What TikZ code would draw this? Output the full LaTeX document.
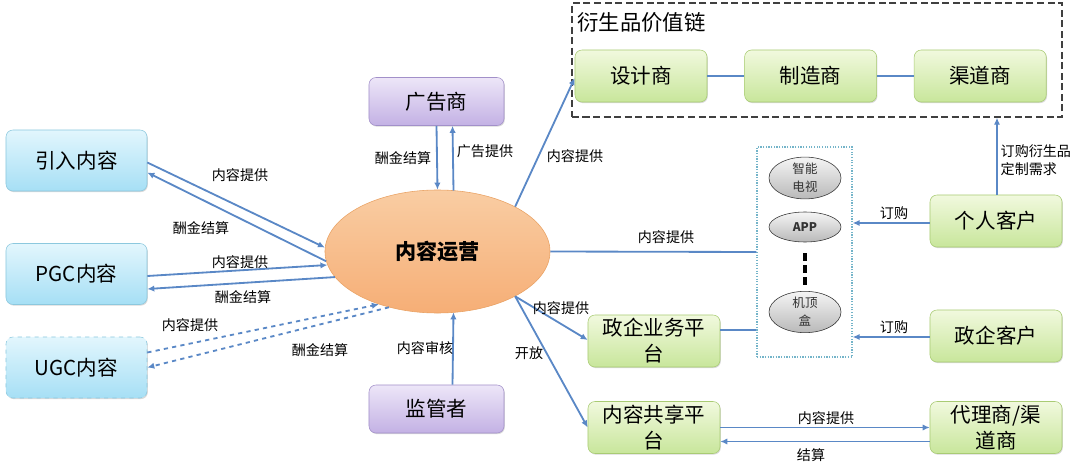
\documentclass[tikz,border=0pt]{standalone}
\usepackage{fontspec}
\setmainfont{Noto Sans CJK SC}
\usetikzlibrary{arrows.meta}
\usetikzlibrary{calc}
\usetikzlibrary{shadows}
\usetikzlibrary{shapes.geometric}
\usetikzlibrary{positioning}

\definecolor{linkblue}{HTML}{5A88C6}
\definecolor{bluetop}{HTML}{E2F6FD}
\definecolor{bluebot}{HTML}{A6DFF5}
\definecolor{blueline}{HTML}{8CC8DE}
\definecolor{greentop}{HTML}{F1F9DE}
\definecolor{greenbot}{HTML}{C8E69B}
\definecolor{greenline}{HTML}{A9CB74}
\definecolor{purpletop}{HTML}{EDE6F8}
\definecolor{purplebot}{HTML}{C3B1E4}
\definecolor{purpleline}{HTML}{A290C9}
\definecolor{orangetop}{HTML}{F9CDA3}
\definecolor{orangemid}{HTML}{FDE2C8}
\definecolor{orangebot}{HTML}{F6AE76}
\definecolor{orangeline}{HTML}{E9A264}
\definecolor{stackline}{HTML}{74B4C9}

\begin{document}
\begin{tikzpicture}[x=0.025cm, y=-0.025cm,
    box/.style={rectangle, rounded corners=5pt, align=center, inner sep=2pt,
        font=\fontsize{14.6}{18.5}\selectfont,
        drop shadow={shadow xshift=0.6pt, shadow yshift=-0.8pt, opacity=0.3}},
    bluebox/.style={box, draw=blueline, top color=bluetop, bottom color=bluebot,
        minimum width=3.525cm, minimum height=1.525cm},
    greenbox/.style={box, draw=greenline, top color=greentop, bottom color=greenbot,
        minimum width=3.3cm, minimum height=1.3cm},
    purplebox/.style={box, draw=purpleline, top color=purpletop, bottom color=purplebot,
        minimum width=3.375cm, minimum height=1.2cm},
    device/.style={ellipse, draw=black!80, top color=gray!8, bottom color=gray!55,
        minimum width=1.8cm, inner sep=0pt, align=center, text=black!80,
        font=\fontsize{8.9}{12.8}\selectfont},
    lbl/.style={inner sep=1pt, font=\fontsize{10}{12}\selectfont},
    flow/.style={draw=linkblue, line width=1.3pt, -{Latex[length=5pt,width=4.5pt]}},
    link/.style={draw=linkblue, line width=1.3pt},
    node distance=0.925cm]
    \useasboundingbox (0,0) rectangle (1080,472);

    % left side
    \node[bluebox] (intro) at (76.5,160.5) {引入内容};
    \node[bluebox] (pgc) at (76.5,274) {PGC内容};
    \node[bluebox, dashed] (ugc) at (76.5,367.5) {UGC内容};

    \node[ellipse, draw=orangeline, top color=orangetop, middle color=orangemid, bottom color=orangebot,
        minimum width=5.625cm, minimum height=3.075cm, inner sep=0pt,
        font=\fontsize{15}{18}\selectfont\bfseries] (ops) at (437.5,251.5) {内容运营};

    \node[purplebox] (ad) at (436.5,101.5) {广告商};
    \node[purplebox] (reg) at (436.5,409) {监管者};

    % value chain
    \node[draw=black!75, dash pattern=on 5pt off 2.5pt, line width=1pt, minimum width=12.25cm, minimum height=2.85cm] (chain) at (817,60) {};
    \node[anchor=west, inner sep=0pt, font=\fontsize{15.2}{18}\selectfont] (title) at (577,22) {衍生品价值链};
    \node[greenbox] (des) at (641,76) {设计商};
    \node[greenbox, right=of des] (mfr) {制造商};
    \node[greenbox, right=of mfr] (chn) {渠道商};

    % terminals
    \node[draw=stackline, densely dotted, line width=0.9pt, minimum width=2.375cm, minimum height=5.25cm] (stack) at (804.5,252) {};
    \node[device, minimum height=1cm] (tv) at (805,178) {智能\\电视};
    \node[device, minimum height=0.75cm, font=\fontsize{8.5}{10}\selectfont\bfseries] (app) at (805,227) {APP};
    \node[device, minimum height=0.98cm] (stb) at (805,312) {机顶\\盒};
    \draw[line width=2.6pt, dash pattern=on 5.7pt off 2.9pt] ($(app.south)+(0,11)$) -- ($(stb.north)+(0,-6)$);

    \node[greenbox] (person) at (996,221) {个人客户};
    \node[greenbox] (gov) at (996,336) {政企客户};
    \node[greenbox] (govp) at (654,341) {政企业务平\\台};
    \node[greenbox] (share) at (654,427.5) {内容共享平\\台};
    \node[greenbox] (agent) at (996,427.5) {代理商/渠\\道商};

    % connectors
    \draw[flow] ($(intro.east)+(0,2)$) -- (ops.178);
    \draw[flow] (ops.185) -- ($(intro.east)+(0,12)$);
    \draw[flow] ($(pgc.east)+(0,2)$) -- (ops.187);
    \draw[flow] (ops.194) -- ($(pgc.east)+(0,15)$);
    \draw[flow, dashed] ($(ugc.east)+(0,-15)$) -- (ops.222);
    \draw[flow, dashed] (ops.229) -- ($(ugc.east)+(0,0)$);

    \draw[flow] (ad.south) -- (ops.north);
    \draw[flow] ($(ops.north)+(16,1)$) -- ($(ad.south)+(16,0)$);
    \draw[flow] ($(reg.north)+(16,0)$) -- ($(ops.south)+(16,-1)$);

    \draw[flow] (ops.30) -- ($(des.west)+(0,2)$);
    \draw[link] (ops.east) -- (stack.west);
    \draw[flow] (ops.330) -- ($(govp.west)+(0,-1)$);
    \draw[flow] (ops.330) -- (share.west);

    \draw[link] (des) -- (mfr);
    \draw[link] (mfr) -- (chn);

    \coordinate (g1) at ($(govp.east)+(0,-11)$);
    \draw[link] (g1) -- (g1 -| stack.west);
    \draw[flow] ($(person.west)+(0,2)$) -- ($(person.west -| stack.east)+(0,2)$);
    \draw[flow] ($(gov.west)+(0,1)$) -- ($(gov.west -| stack.east)+(0,1)$);
    \draw[flow] ($(person.north)+(1,0)$) -- ($(person.north |- chain.south)+(1,0)$);

    \draw[flow] (share.east) -- (agent.west);
    \draw[flow] ($(agent.west)+(0,14)$) -- ($(share.east)+(0,14)$);

    % labels
    \node[lbl] at (240,175) {内容提供};
    \node[lbl] at (201,228) {酬金结算};
    \node[lbl] at (240,262) {内容提供};
    \node[lbl] at (243,297) {酬金结算};
    \node[lbl] at (190,325) {内容提供};
    \node[lbl] at (320,350) {酬金结算};
    \node[lbl] at (403,158) {酬金结算};
    \node[lbl] at (485,151) {广告提供};
    \node[lbl] at (425,348) {内容审核};
    \node[lbl] at (575,156) {内容提供};
    \node[lbl] at (666,237) {内容提供};
    \node[lbl] at (561,308) {内容提供};
    \node[lbl] at (529,353) {开放};
    \node[lbl] at (894,213) {订购};
    \node[lbl] at (894,327) {订购};
    \node[lbl, anchor=west, align=left, font=\fontsize{10}{12.5}\selectfont] at (999,160) {订购衍生品\\定制需求};
    \node[lbl] at (826,418) {内容提供};
    \node[lbl] at (811,455) {结算};
\end{tikzpicture}
\end{document}
